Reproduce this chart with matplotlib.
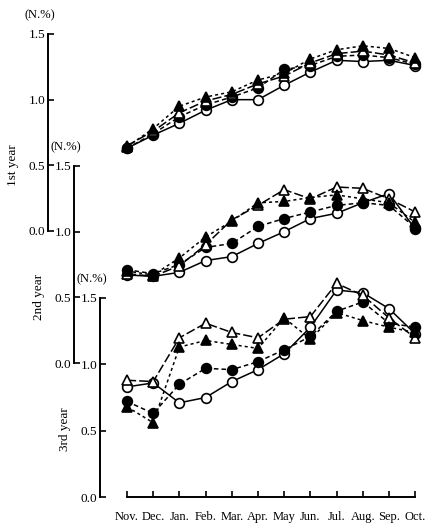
import numpy as np
import matplotlib
matplotlib.use('Agg')
import matplotlib.pyplot as plt

plt.rcParams['font.family'] = ['Liberation Serif', 'DejaVu Serif']

months = ['Nov.', 'Dec.', 'Jan.', 'Feb.', 'Mar.', 'Apr.', 'May', 'Jun.', 'Jul.', 'Aug.', 'Sep.', 'Oct.']
yticks = [0.0, 0.5, 1.0, 1.5]
year_names = ['1st year', '2nd year', '3rd year']

# (N.%) per month, four treatments, per year
y1_open_circ = [0.63, 0.73, 0.82, 0.92, 1.00, 1.00, 1.11, 1.21, 1.30, 1.29, 1.30, 1.26]
y1_fill_circ = [0.63, 0.74, 0.87, 0.96, 1.02, 1.09, 1.23, 1.26, 1.33, 1.34, 1.32, 1.27]
y1_open_tri = [0.65, 0.76, 0.90, 0.99, 1.04, 1.12, 1.18, 1.28, 1.35, 1.37, 1.34, 1.28]
y1_fill_tri = [0.64, 0.78, 0.95, 1.02, 1.06, 1.15, 1.20, 1.31, 1.38, 1.41, 1.39, 1.32]

y2_open_circ = [0.67, 0.66, 0.69, 0.78, 0.81, 0.91, 1.00, 1.10, 1.14, 1.22, 1.29, 1.02]
y2_fill_circ = [0.71, 0.68, 0.75, 0.88, 0.91, 1.04, 1.10, 1.15, 1.20, 1.22, 1.20, 1.03]
y2_open_tri = [0.68, 0.66, 0.74, 0.90, 1.09, 1.20, 1.32, 1.25, 1.34, 1.33, 1.25, 1.15]
y2_fill_tri = [0.70, 0.67, 0.80, 0.96, 1.08, 1.22, 1.23, 1.26, 1.28, 1.25, 1.22, 1.07]

y3_open_circ = [0.83, 0.86, 0.71, 0.75, 0.87, 0.96, 1.08, 1.28, 1.56, 1.54, 1.42, 1.23]
y3_fill_circ = [0.72, 0.63, 0.85, 0.97, 0.96, 1.02, 1.11, 1.21, 1.40, 1.47, 1.31, 1.28]
y3_open_tri = [0.88, 0.87, 1.20, 1.31, 1.24, 1.20, 1.34, 1.36, 1.61, 1.52, 1.35, 1.20]
y3_fill_tri = [0.68, 0.56, 1.13, 1.18, 1.15, 1.12, 1.35, 1.19, 1.39, 1.33, 1.28, 1.24]

years = [
    [y1_open_circ, y1_fill_circ, y1_open_tri, y1_fill_tri],
    [y2_open_circ, y2_fill_circ, y2_open_tri, y2_fill_tri],
    [y3_open_circ, y3_fill_circ, y3_open_tri, y3_fill_tri],
]

styles = [
    dict(marker='o', mfc='white', ls='-'),
    dict(marker='o', mfc='black', ls=(0, (3, 2))),
    dict(marker='^', mfc='white', ls=(0, (6, 2))),
    dict(marker='^', mfc='black', ls=(0, (2, 2))),
]

W, H = 426, 526
x0, dx = 127, 26.2   # pixel pos of Nov. and month spacing
R = 421
# (left spine px, top px for 1.5, bottom px for 0.0)
frames = [(48, 34, 231), (74, 166, 363), (100, 298, 497)]

fig = plt.figure(figsize=(W / 100, H / 100), dpi=100)
xs = np.arange(len(months))

for k, (L, top, bot) in enumerate(frames):
    ax = fig.add_axes([L / W, 1 - bot / H, (R - L) / W, (bot - top) / H])
    ax.patch.set_alpha(0)
    ax.set_xlim((L - x0) / dx, (R - x0) / dx)
    ax.set_ylim(0, 1.5)
    for series, st in zip(years[k], styles):
        ax.plot(xs, series, color='black', lw=1.1, ls=st['ls'], marker=st['marker'],
                ms=7 if st['marker'] == 'o' else 7.5, mfc=st['mfc'], mec='black', mew=1.2,
                clip_on=False)
    for s in ['top', 'right']:
        ax.spines[s].set_visible(False)
    ax.spines['left'].set_linewidth(1.4)
    ax.set_yticks(yticks)
    ax.set_yticklabels(['%.1f' % v for v in yticks])
    ax.tick_params(axis='y', direction='in', length=4, width=1.2, pad=2, labelsize=9.5)
    ax.text((L - 8) / W, 1 - (top - 19) / H, '(N.%)', transform=fig.transFigure,
            ha='center', va='center', fontsize=9)
    ax.text((L - 35) / W, 1 - (top + 131) / H, year_names[k], transform=fig.transFigure,
            rotation=90, ha='center', va='center', fontsize=9.5)
    if k < 2:
        ax.spines['bottom'].set_visible(False)
        ax.set_xticks([])
    else:
        ax.spines['bottom'].set_bounds(0, len(months) - 1)
        ax.spines['bottom'].set_linewidth(1.4)
        ax.set_xticks(xs)
        ax.set_xticklabels(months)
        ax.tick_params(axis='x', direction='in', length=4, width=1.2, pad=10, labelsize=9)

fig.savefig('out.png', dpi=100)
